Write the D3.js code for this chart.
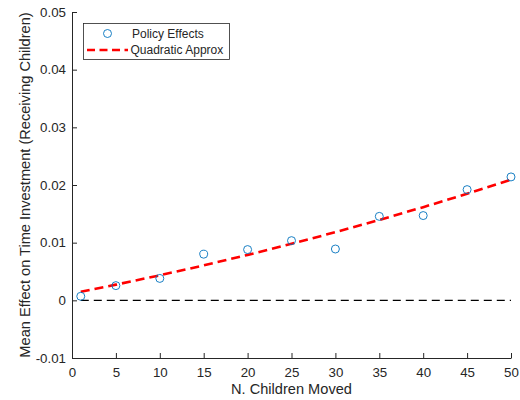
<!DOCTYPE html>
<html><head><meta charset="utf-8">
<script src="https://cdn.jsdelivr.net/npm/d3@7"></script>
<style>body{margin:0;background:#fff}svg{display:block}text{font-family:"Liberation Sans",Arial,sans-serif;fill:#262626}</style>
</head><body><svg id="c" width="520" height="400"></svg>
<script>
const xs = [1,5,10,15,20,25,30,35,40,45,50];
const policyEffects = [0.0007,0.00255,0.0038,0.0080,0.0088,0.01035,0.0089,0.01456,0.0147,0.0192,0.0214];
const quadApprox = [0.0015,0.00272,0.00434,0.00606,0.00788,0.0098,0.01182,0.01394,0.01616,0.01848,0.0209];
const xTicks = [0,5,10,15,20,25,30,35,40,45,50];
const yTicks = [-0.01,0,0.01,0.02,0.03,0.04,0.05];
const yTickLabels = ["-0.01","0","0.01","0.02","0.03","0.04","0.05"];

const svg = d3.select("#c");
const L=72,R=511,T=12,B=358;
const x = d3.scaleLinear().domain([0,50]).range([L,R]);
const y = d3.scaleLinear().domain([-0.01,0.05]).range([B,T]);
const ax = "#262626";

// x axis
const gx = svg.append("g").attr("transform",`translate(0,${B})`)
  .call(d3.axisBottom(x).tickValues(xTicks).tickFormat(d3.format("d")).tickSizeInner(-5).tickSizeOuter(0).tickPadding(9.5));
gx.select(".domain").attr("stroke",ax);
gx.selectAll(".tick line").attr("stroke",ax);
gx.selectAll("text").attr("font-size",13.3).attr("fill",ax).style("font-family","'Liberation Sans',Arial,sans-serif");

// y axis
const gy = svg.append("g").attr("transform",`translate(${L},0)`)
  .call(d3.axisLeft(y).tickValues(yTicks).tickFormat((d,i)=>yTickLabels[i]).tickSizeInner(-5).tickSizeOuter(0).tickPadding(6));
gy.select(".domain").attr("stroke",ax);
gy.selectAll(".tick line").attr("stroke",ax);
gy.selectAll("text").attr("font-size",13.3).attr("fill",ax).style("font-family","'Liberation Sans',Arial,sans-serif");

// labels
svg.append("text").attr("x",(L+R)/2).attr("y",394).attr("text-anchor","middle").attr("font-size",14.6).text("N. Children Moved");
svg.append("text").attr("transform",`translate(30,${(T+B)/2}) rotate(-90)`).attr("text-anchor","middle").attr("font-size",14.6).text("Mean Effect on Time Investment (Receiving Children)");

// zero line
svg.append("line").attr("x1",x(xs[0])).attr("x2",x(xs[xs.length-1])).attr("y1",y(0)).attr("y2",y(0))
  .attr("stroke","#000").attr("stroke-width",1.3).attr("stroke-dasharray","8,5");

// quadratic line
svg.append("path").datum(xs.map((d,i)=>[d,quadApprox[i]]))
  .attr("d",d3.line().x(d=>x(d[0])).y(d=>y(d[1])))
  .attr("fill","none").attr("stroke","#ff0000").attr("stroke-width",2.6).attr("stroke-dasharray","9,5");

// points
svg.selectAll("circle.pt").data(xs.map((d,i)=>[d,policyEffects[i]])).enter().append("circle")
  .attr("class","pt").attr("cx",d=>x(d[0])).attr("cy",d=>y(d[1])).attr("r",4)
  .attr("fill","none").attr("stroke","#0072BD").attr("stroke-width",0.9);

// legend
const lg = svg.append("g");
lg.append("rect").attr("x",83.5).attr("y",23.5).attr("width",146).attr("height",36).attr("fill","#fff").attr("stroke",ax).attr("stroke-width",0.8);
lg.append("circle").attr("cx",107.5).attr("cy",33.5).attr("r",4).attr("fill","none").attr("stroke","#0072BD").attr("stroke-width",0.9);
lg.append("text").attr("x",132).attr("y",37.5).attr("font-size",12).text("Policy Effects");
lg.append("line").attr("x1",87).attr("x2",128).attr("y1",50).attr("y2",50).attr("stroke","#ff0000").attr("stroke-width",2.6).attr("stroke-dasharray","8,4.5");
lg.append("text").attr("x",130.5).attr("y",54).attr("font-size",12).text("Quadratic Approx");
</script></body></html>
